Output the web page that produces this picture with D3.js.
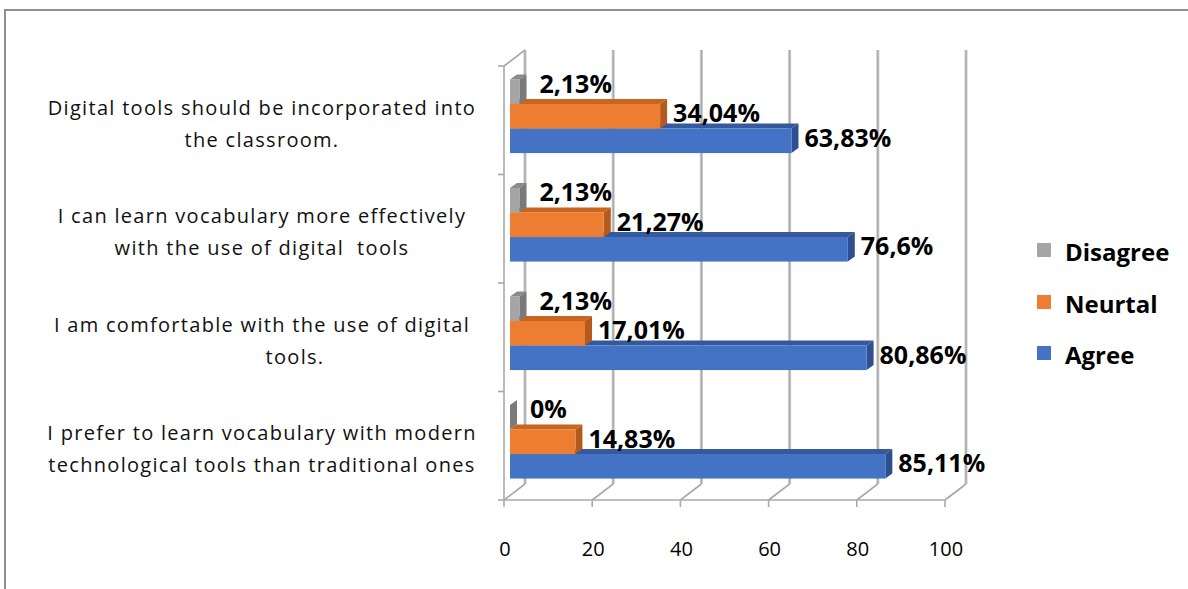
<!DOCTYPE html>
<html>
<head>
<meta charset="utf-8">
<script src="https://cdn.jsdelivr.net/npm/d3@7"></script>
<style>
  html, body { margin: 0; padding: 0; background: #fff; }
  svg { display: block; }
</style>
</head>
<body>
<svg id="chart" width="1188" height="589"></svg>
<script>
// ---------------- data ----------------
const categories = [
  "Digital tools should be incorporated into the classroom.",
  "I can learn vocabulary more effectively with the use of digital  tools",
  "I am comfortable with the use of digital tools.",
  "I prefer to learn vocabulary with modern technological tools than traditional ones"
];
const categoryLines = [
  ["Digital tools should be incorporated into", "the classroom."],
  ["I can learn vocabulary more effectively", "with the use of digital  tools"],
  ["I am comfortable with the use of digital", "tools."],
  ["I prefer to learn vocabulary with modern", "technological tools than traditional ones"]
];
const seriesNames = ["Disagree", "Neurtal", "Agree"];
const disagree = [2.13, 2.13, 2.13, 0];
const neutral  = [34.04, 21.27, 17.01, 14.83];
const agree    = [63.83, 76.6, 80.86, 85.11];
const xTicks = [0, 20, 40, 60, 80, 100];

// ---------------- layout ----------------
const colors = {
  Disagree: { front: "#a5a5a5", top: "#8a8a8a", side: "#7a7a7a" },
  Neurtal:  { front: "#ed7d31", top: "#c8651f", side: "#b35a1c" },
  Agree:    { front: "#4472c4", top: "#34599d", side: "#2f5090" }
};
const values = { Disagree: disagree, Neurtal: neutral, Agree: agree };

const svg = d3.select("#chart");
const FONT = "'Open Sans', 'Liberation Sans', sans-serif";

// chart border (left + top visible)
svg.append("rect").attr("x", 5).attr("y", 10).attr("width", 1300).attr("height", 700)
  .attr("fill", "none").attr("stroke", "#8f8f8f").attr("stroke-width", 2);

const x = d3.scaleLinear().domain([0, 100]).range([504, 945]);
const y = d3.scaleBand().domain(categories).range([66, 500]);
const inner = d3.scaleBand().domain(seriesNames).range([0, y.bandwidth()])
  .paddingInner(0).paddingOuter(0.71);

const BACK = { dx: 21, dy: -16 };   // back wall offset
const BAR  = { dx: 6, dy: -4 };     // bar front plane offset
const DEP  = { dx: 7, dy: -5 };     // bar depth

const grid = svg.append("g");
const gridColor = "#a9a9a9";
xTicks.forEach(t => {
  const fx = x(t);
  grid.append("line")
    .attr("x1", fx + BACK.dx).attr("x2", fx + BACK.dx)
    .attr("y1", 66 + BACK.dy).attr("y2", 500 + BACK.dy)
    .attr("stroke", "#d0d0d0").attr("stroke-width", 3.2);
  grid.append("line")
    .attr("x1", fx + BACK.dx).attr("x2", fx + BACK.dx)
    .attr("y1", 66 + BACK.dy).attr("y2", 500 + BACK.dy)
    .attr("stroke", gridColor).attr("stroke-width", 1.4);
  grid.append("line")
    .attr("x1", fx).attr("y1", 500)
    .attr("x2", fx + BACK.dx).attr("y2", 500 + BACK.dy)
    .attr("stroke", gridColor).attr("stroke-width", 1.6);
});
grid.append("line").attr("x1", x(0)).attr("x2", x(0)).attr("y1", 66).attr("y2", 500)
  .attr("stroke", gridColor).attr("stroke-width", 1.6);
grid.append("line").attr("x1", x(0)).attr("y1", 66).attr("x2", x(0) + BACK.dx).attr("y2", 66 + BACK.dy)
  .attr("stroke", gridColor).attr("stroke-width", 1.6);
grid.append("line").attr("x1", x(0)).attr("x2", x(100)).attr("y1", 500).attr("y2", 500)
  .attr("stroke", gridColor).attr("stroke-width", 1.6);
xTicks.forEach(t => {
  grid.append("line").attr("x1", x(t)).attr("x2", x(t)).attr("y1", 500).attr("y2", 507)
    .attr("stroke", gridColor).attr("stroke-width", 1.6);
});
const catBounds = categories.map(c => y(c)).concat([y.range()[1]]);
catBounds.forEach(b => {
  grid.append("line").attr("x1", x(0) - 6).attr("x2", x(0)).attr("y1", b).attr("y2", b)
    .attr("stroke", gridColor).attr("stroke-width", 1.6);
});

// x tick labels
svg.append("g").selectAll("text").data(xTicks).join("text")
  .attr("x", d => x(d) + 1).attr("y", 548)
  .attr("text-anchor", "middle").attr("dominant-baseline", "central")
  .attr("font-family", FONT).attr("font-size", 20).attr("fill", "#000")
  .text(d => d);

// category labels
const catG = svg.append("g");
categories.forEach((c, i) => {
  const cy = y(c) + y.bandwidth() / 2 + 3;
  const lines = categoryLines[i];
  lines.forEach((ln, j) => {
    let cx = 262;
    if (ln === "tools.") cx = 295;
    catG.append("text")
      .attr("x", cx).attr("y", cy + (j - (lines.length - 1) / 2) * 32)
      .attr("text-anchor", "middle").attr("dominant-baseline", "central")
      .attr("font-family", FONT).attr("font-size", 20).attr("fill", "#111")
      .attr("letter-spacing", 1.3)
      .style("white-space", "pre")
      .text(ln);
  });
});

// 3D bars
const barsG = svg.append("g");
const drawOrder = ["Agree", "Neurtal", "Disagree"];
categories.forEach((c, i) => {
  drawOrder.forEach(s => {
    const v = values[s][i];
    const x0 = x(0) + BAR.dx;
    const x1 = x(v) + BAR.dx;
    const y0 = y(c) + inner(s) + BAR.dy;
    const h = inner.bandwidth();
    const col = colors[s];
    const g = barsG.append("g");
    g.append("path")
      .attr("d", `M${x0},${y0} L${x1},${y0} L${x1 + DEP.dx},${y0 + DEP.dy} L${x0 + DEP.dx},${y0 + DEP.dy} Z`)
      .attr("fill", col.top);
    g.append("path")
      .attr("d", `M${x1},${y0} L${x1 + DEP.dx},${y0 + DEP.dy} L${x1 + DEP.dx},${y0 + h + DEP.dy} L${x1},${y0 + h} Z`)
      .attr("fill", col.side);
    g.append("rect").attr("x", x0).attr("y", y0).attr("width", Math.max(0, x1 - x0)).attr("height", h)
      .attr("fill", col.front);
  });
});

// data labels
const fmt = v => String(v).replace(".", ",") + "%";
const labG = svg.append("g");
categories.forEach((c, i) => {
  seriesNames.forEach(s => {
    const v = values[s][i];
    const yc = y(c) + inner(s) + BAR.dy + inner.bandwidth() / 2 + (s === "Disagree" ? -9 : -4);
    const gap = s === "Disagree" ? 13 : 6;
    labG.append("text")
      .attr("x", x(v) + BAR.dx + DEP.dx + gap).attr("y", yc)
      .attr("dominant-baseline", "central")
      .attr("font-family", FONT).attr("font-size", 25).attr("font-weight", "bold").attr("fill", "#000")
      .text(fmt(v));
  });
});

// legend
const legG = svg.append("g");
const legY = { Disagree: 250, Neurtal: 302, Agree: 353 };
seriesNames.forEach(s => {
  legG.append("rect").attr("x", 1037).attr("y", legY[s] - 7).attr("width", 14).attr("height", 14)
    .attr("fill", colors[s].front);
  legG.append("text").attr("x", 1065).attr("y", legY[s] + 1)
    .attr("dominant-baseline", "central")
    .attr("font-family", FONT).attr("font-size", 24).attr("font-weight", "bold").attr("fill", "#000")
    .text(s);
});
</script>
</body>
</html>
